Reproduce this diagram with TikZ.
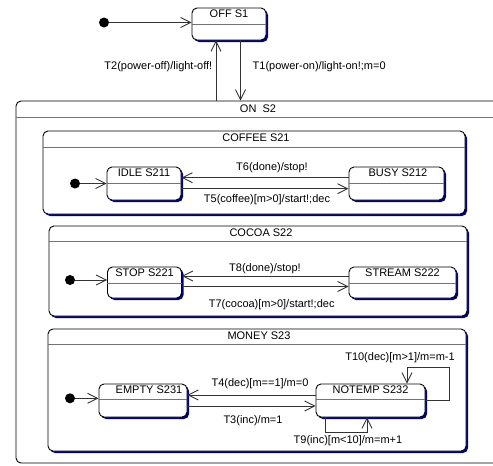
\documentclass[tikz,border=0pt]{standalone}
\usepackage{fontspec}
\setmainfont{Liberation Sans}
\usetikzlibrary{arrows.meta,shadows}
\definecolor{shadownavy}{RGB}{0,0,128}
\tikzset{
  plainbox/.style={draw=black, line width=0.9pt, fill=white, rounded corners=5pt, inner sep=0pt},
  statebox/.style={plainbox, drop shadow={shadow xshift=2pt, shadow yshift=-2pt, fill=shadownavy, opacity=1}},
  divider/.style={draw=black!55, line width=1pt},
  ttl/.style={anchor=base, inner sep=0pt},
  lbl/.style={anchor=base, inner sep=0pt},
  conn/.style={draw=black!80, line width=0.9pt, -{Straight Barb[length=10pt,width=10pt]}},
  initdot/.style={circle, fill=black, minimum size=10pt, inner sep=0pt},
}
\begin{document}
\begin{tikzpicture}[x=1pt, y=-1pt, font=\fontsize{11}{13}\selectfont]
\useasboundingbox (0,0) rectangle (493,466);
\clip (0,0) rectangle (493,466);
\fill[white] (0,0) rectangle (493,466);

% ---------- OFF S1 ----------
\node[statebox, minimum width=74pt, minimum height=32pt] (off) at (229,24) {};
\draw[divider] ([yshift=-17pt]off.north west) -- ([yshift=-17pt]off.north east);
\node[ttl] (offt) at ([yshift=-10pt]off.north) {OFF S1};
\node[initdot] (i0) at (104,22.5) {};

% ---------- ON S2 ----------
\node[plainbox, minimum width=504pt, minimum height=362pt] (on) at (268,282) {};
\draw[divider] ([yshift=-17pt]on.north west) -- ([yshift=-17pt]on.north east);
\node[ttl] (ont) at (258,112) {ON\ \ S2};

\coordinate (xT2) at (216,0);
\coordinate (xT1) at (240.5,0);
\draw[conn] (i0) -- (i0 -| off.west);
\draw[conn] (on.north -| xT2) -- (off.south -| xT2);
\draw[conn] (off.south -| xT1) -- (on.north -| xT1);
\node[lbl, anchor=base east] (l2) at (212.5,69) {T2(power-off)/light-off!};
\node[lbl, anchor=base west] (l1) at (252.5,69) {T1(power-on)/light-on!;m=0};

% ---------- COFFEE S21 ----------
\node[statebox, minimum width=422pt, minimum height=83pt] (coffee) at (254,172.5) {};
\draw[divider] ([yshift=-16.5pt]coffee.north west) -- ([yshift=-16.5pt]coffee.north east);
\node[ttl] (coffeet) at ([xshift=2pt,yshift=-10.7pt]coffee.north) {COFFEE S21};

\node[statebox, minimum width=74pt, minimum height=33pt] (idle) at (144,183.5) {};
\draw[divider] ([yshift=-17pt]idle.north west) -- ([yshift=-17pt]idle.north east);
\node[ttl] (idlet) at ([yshift=-10pt]idle.north) {IDLE S211};

\node[statebox, minimum width=95pt, minimum height=33pt] (busy) at (396.5,183.5) {};
\draw[divider] ([yshift=-17pt]busy.north west) -- ([yshift=-17pt]busy.north east);
\node[ttl] (busyt) at ([xshift=1.5pt,yshift=-10pt]busy.north) {BUSY S212};

\node[initdot] (i1) at (75,183.5) {};
\draw[conn] (i1) -- (i1 -| idle.west);
\coordinate (yT6) at (0,177.7);
\coordinate (yT5) at (0,188.7);
\draw[conn] (yT6 -| busy.west) -- (yT6 -| idle.east);
\draw[conn] (yT5 -| idle.east) -- (yT5 -| busy.west);
\node[lbl] (l6) at (272,170) {T6(done)/stop!};
\node[lbl] (l5) at (267,202) {T5(coffee)[m>0]/start!;dec};

% ---------- COCOA S22 ----------
\node[statebox, minimum width=418pt, minimum height=90pt] (cocoa) at (258,271) {};
\draw[divider] ([yshift=-16pt]cocoa.north west) -- ([yshift=-16pt]cocoa.north east);
\node[ttl] (cocoat) at ([xshift=3pt,yshift=-11pt]cocoa.north) {COCOA S22};

\node[statebox, minimum width=74pt, minimum height=31pt] (stop) at (144.5,282.5) {};
\draw[divider] ([yshift=-17pt]stop.north west) -- ([yshift=-17pt]stop.north east);
\node[ttl] (stopt) at ([yshift=-10pt]stop.north) {STOP S221};

\node[statebox, minimum width=107pt, minimum height=31pt] (stream) at (402.5,282.5) {};
\draw[divider] ([yshift=-17pt]stream.north west) -- ([yshift=-17pt]stream.north east);
\node[ttl] (streamt) at ([yshift=-10pt]stream.north) {STREAM S222};

\node[initdot] (i2) at (70,280) {};
\draw[conn] (i2) -- (i2 -| stop.west);
\coordinate (yT8) at (0,276);
\coordinate (yT7) at (0,286.5);
\draw[conn] (yT8 -| stream.west) -- (yT8 -| stop.east);
\draw[conn] (yT7 -| stop.east) -- (yT7 -| stream.west);
\node[lbl] (l8) at (265,271.7) {T8(done)/stop!};
\node[lbl] (l7) at (271.7,307.7) {T7(cocoa)[m>0]/start!;dec};

% ---------- MONEY S23 ----------
\node[statebox, minimum width=418pt, minimum height=122pt] (money) at (257,390) {};
\draw[divider] ([yshift=-16pt]money.north west) -- ([yshift=-16pt]money.north east);
\node[ttl] (moneyt) at ([xshift=2pt,yshift=-11pt]money.north) {MONEY S23};

\node[statebox, minimum width=88pt, minimum height=33pt] (empty) at (143,400.5) {};
\draw[divider] ([yshift=-16pt]empty.north west) -- ([yshift=-16pt]empty.north east);
\node[ttl] (emptyt) at ([xshift=6pt,yshift=-10pt]empty.north) {EMPTY S231};

\node[statebox, minimum width=109pt, minimum height=33pt] (notemp) at (370.5,400.5) {};
\draw[divider] ([yshift=-16pt]notemp.north west) -- ([yshift=-16pt]notemp.north east);
\node[ttl] (notempt) at ([yshift=-10pt]notemp.north) {NOTEMP S232};

\node[initdot] (i3) at (70,398.3) {};
\draw[conn] (i3) -- (i3 -| empty.west);
\coordinate (yT4) at (0,395);
\coordinate (yT3) at (0,406);
\draw[conn] (yT4 -| notemp.west) -- (yT4 -| empty.east);
\draw[conn] (yT3 -| empty.east) -- (yT3 -| notemp.west);
\node[lbl] (l4) at (260,386.7) {T4(dec)[m==1]/m=0};
\node[lbl] (l3) at (253,423.3) {T3(inc)/m=1};

\coordinate (t10a) at (449,367);
\draw[conn] (notemp.east) -| (t10a) -| ([xshift=36.5pt]notemp.north);
\node[lbl] (l10) at (400,360.7) {T10(dec)[m>1]/m=m-1};

\coordinate (t9a) at (367,432);
\draw[conn] ([xshift=-45.5pt]notemp.south) |- (t9a) -- ([xshift=-3.5pt]notemp.south);
\node[lbl] (l9) at (348,443.3) {T9(inc)[m<10]/m=m+1};
\end{tikzpicture}
\end{document}
